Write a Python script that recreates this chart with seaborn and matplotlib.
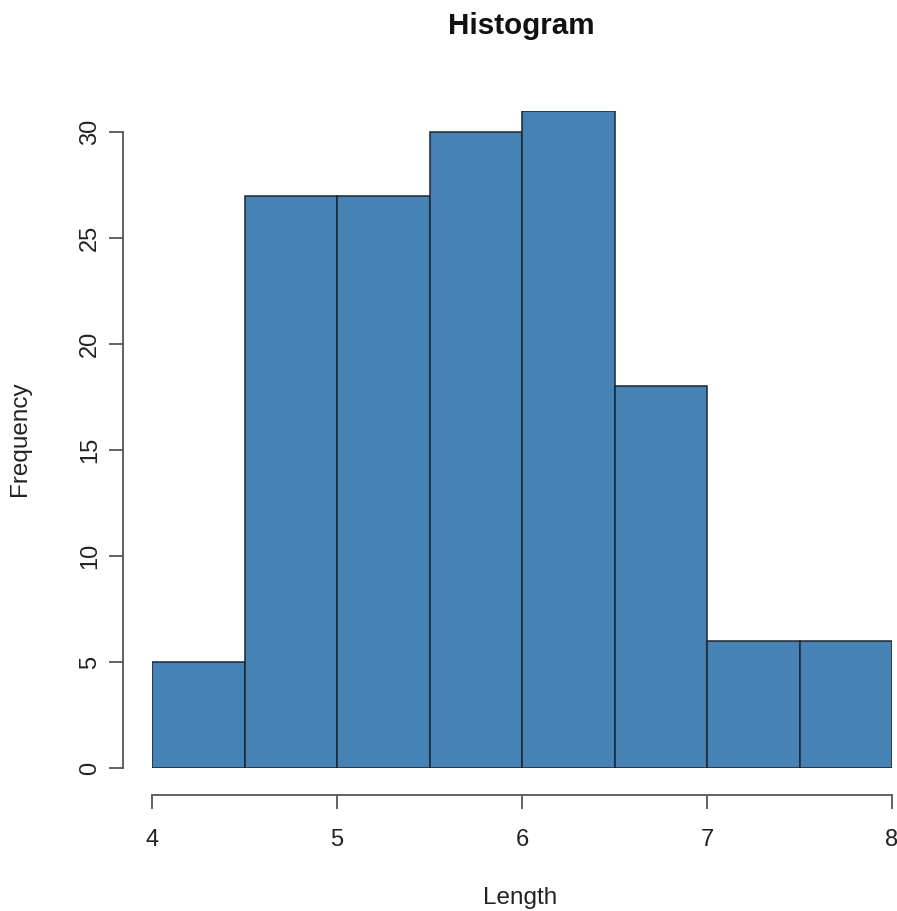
import matplotlib
matplotlib.use("Agg")
import matplotlib.pyplot as plt
import seaborn as sns
import numpy as np
import pandas as pd

# Data (iris Sepal.Length histogram)
bin_edges = [4.0, 4.5, 5.0, 5.5, 6.0, 6.5, 7.0, 7.5, 8.0]
counts = [5, 27, 27, 30, 31, 18, 6, 6]
x_ticks = [4, 5, 6, 7, 8]
y_ticks = [0, 5, 10, 15, 20, 25, 30]
title = "Histogram"
x_label = "Length"
y_label = "Frequency"

sns.set_style("white")
plt.rcParams['font.family'] = ['Liberation Sans', 'DejaVu Sans']

mids = [(a + b) / 2 for a, b in zip(bin_edges[:-1], bin_edges[1:])]
df = pd.DataFrame({"Length": mids, "count": counts})

W, H = 897, 911
fig = plt.figure(figsize=(W / 100, H / 100), dpi=100)
px = lambda p: p * 0.72  # pixels -> points

ymax = 31.0
x0, x1 = 152, 892
y0 = 768
ytop = y0 - ymax * (768 - 132) / 30
ax = fig.add_axes([x0 / W, (H - y0) / H, (x1 - x0) / W, (y0 - ytop) / H])

sns.histplot(data=df, x="Length", weights="count", bins=bin_edges, ax=ax,
             color="#4682B4", alpha=1.0, edgecolor="#1b2631", linewidth=1.1)

ax.set_xlim(4, 8)
ax.set_ylim(0, ymax)

axis_col = "#555555"
txt_col = "#222222"
for s in ["top", "right"]:
    ax.spines[s].set_visible(False)
ax.spines["left"].set_position(("outward", px(29)))
ax.spines["bottom"].set_position(("outward", px(27)))
ax.spines["left"].set_bounds(0, 30)
ax.spines["bottom"].set_bounds(4, 8)
for s in ["left", "bottom"]:
    ax.spines[s].set_color(axis_col)
    ax.spines[s].set_linewidth(1.3)

ax.set_xticks(x_ticks)
ax.set_xticklabels([str(t) for t in x_ticks])
ax.set_yticks(y_ticks)
ax.set_yticklabels([str(t) for t in y_ticks], rotation=90, va="center")
ax.tick_params(axis="both", direction="out", length=px(14), width=1.3,
               color=axis_col, labelsize=17, labelcolor=txt_col)
ax.tick_params(axis="x", pad=px(20), bottom=True)
ax.tick_params(axis="y", pad=px(8), left=True)

ax.set_xlabel("")
ax.set_ylabel("")
fig.text(520 / W, 1 - 898 / H, x_label, ha="center", va="center",
         fontsize=17.5, color=txt_col)
fig.text(20 / W, 1 - 439 / H, y_label, ha="center", va="center",
         rotation=90, fontsize=17.5, color=txt_col)
fig.text(521 / W, 1 - 26 / H, title, ha="center", va="center",
         fontsize=21.3, fontweight="bold", color="#111111")

fig.savefig("out.png", dpi=100)
